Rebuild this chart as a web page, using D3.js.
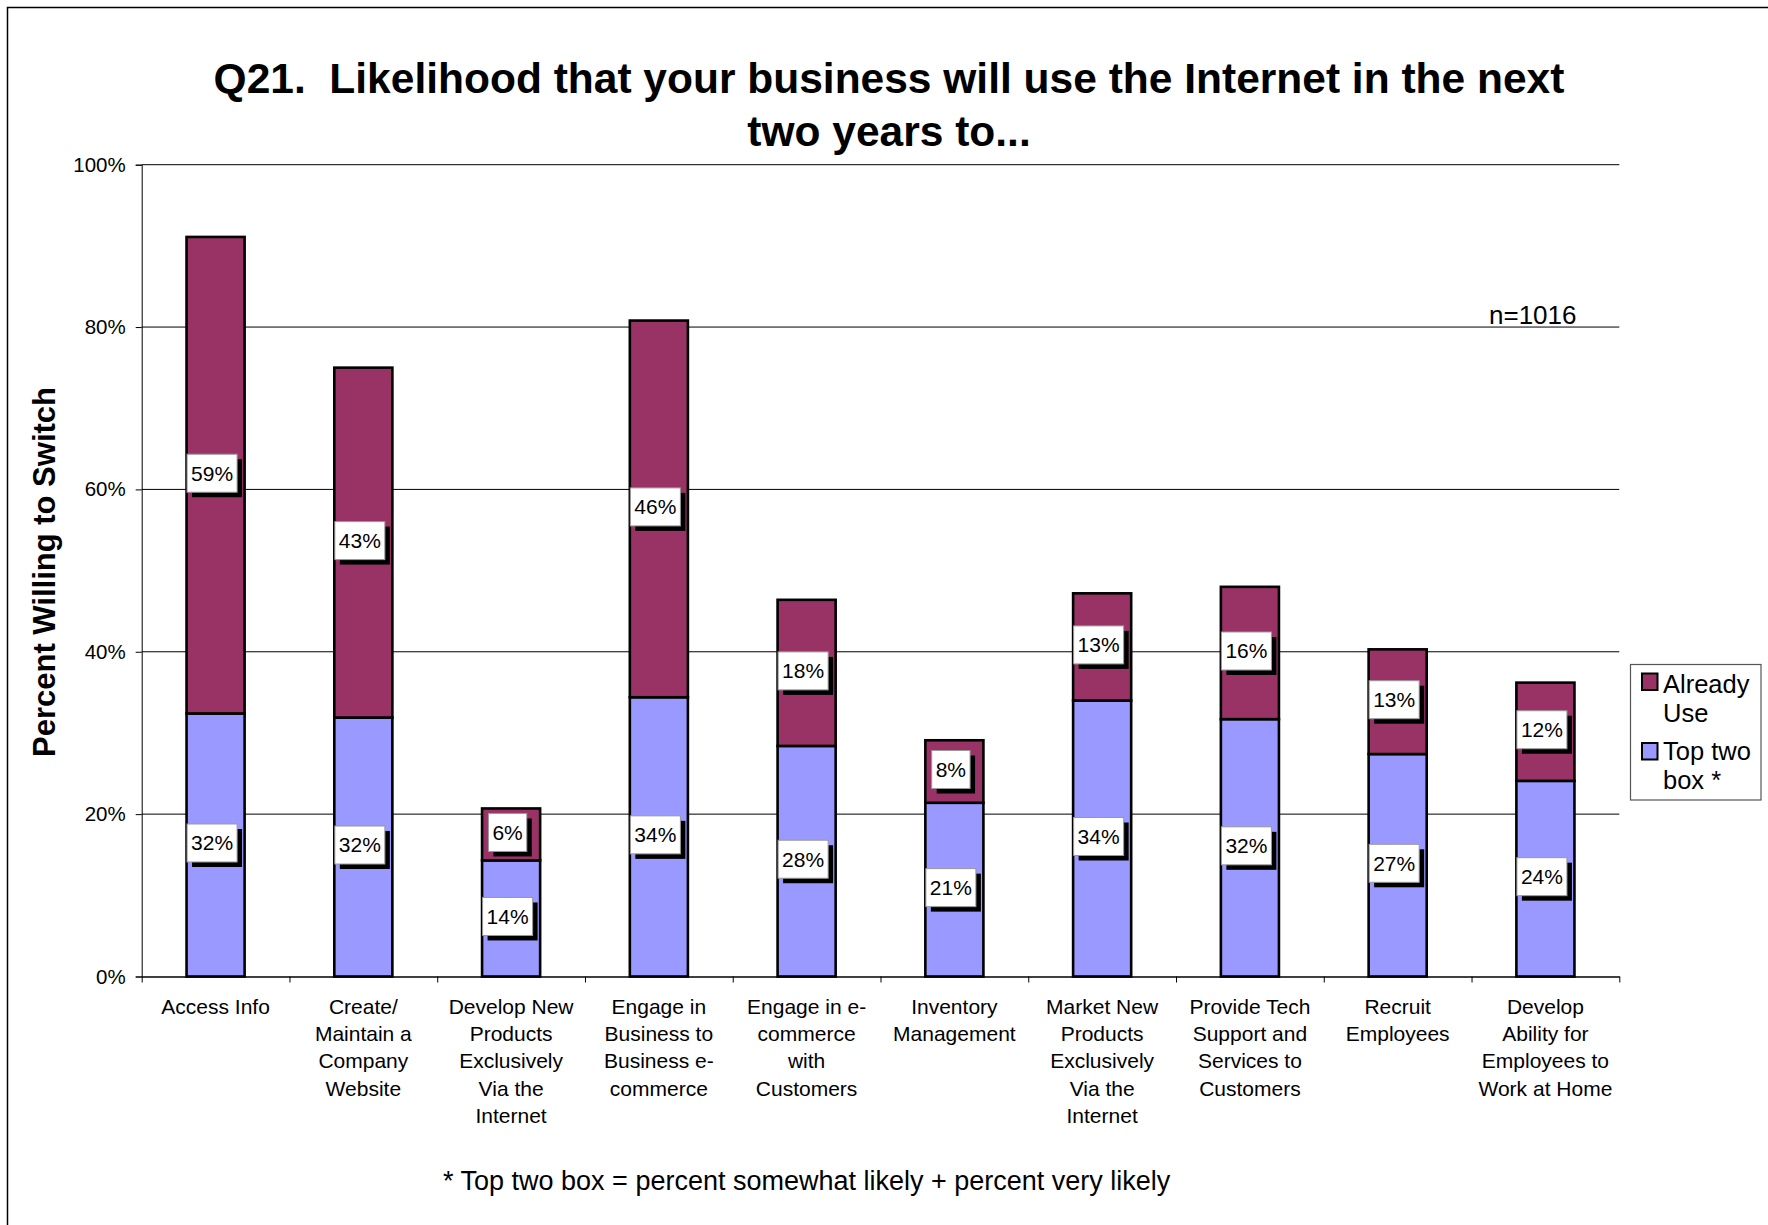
<!DOCTYPE html>
<html>
<head>
<meta charset="utf-8">
<script src="https://cdn.jsdelivr.net/npm/d3@7"></script>
<style>
  html, body { margin: 0; padding: 0; background: #fff; }
  svg { display: block; font-family: "Liberation Sans", Arial, sans-serif; }
</style>
</head>
<body>
<svg id="chart" width="1768" height="1225"></svg>
<script>
// ---- data ----
const categories = [
  "Access Info",
  "Create/ Maintain a Company Website",
  "Develop New Products Exclusively Via the Internet",
  "Engage in Business to Business e-commerce",
  "Engage in e-commerce with Customers",
  "Inventory Management",
  "Market New Products Exclusively Via the Internet",
  "Provide Tech Support and Services to Customers",
  "Recruit Employees",
  "Develop Ability for Employees to Work at Home"
];
const categoryLines = [
  ["Access Info"],
  ["Create/", "Maintain a", "Company", "Website"],
  ["Develop New", "Products", "Exclusively", "Via the", "Internet"],
  ["Engage in", "Business to", "Business e-", "commerce"],
  ["Engage in e-", "commerce", "with", "Customers"],
  ["Inventory", "Management"],
  ["Market New", "Products", "Exclusively", "Via the", "Internet"],
  ["Provide Tech", "Support and", "Services to", "Customers"],
  ["Recruit", "Employees"],
  ["Develop", "Ability for", "Employees to", "Work at Home"]
];
const topTwoBox = [32.4, 31.9, 14.3, 34.4, 28.4, 21.4, 34.0, 31.7, 27.4, 24.1];
const alreadyUse = [58.7, 43.1, 6.4, 46.4, 18.0, 7.7, 13.2, 16.3, 12.9, 12.1];
const seriesNames = ["Already Use", "Top two box *"];
const seriesColors = ["#993366", "#9999FF"];
const yTicks = [0, 20, 40, 60, 80, 100];
const titleLines = ["Q21.  Likelihood that your business will use the Internet in the next", "two years to..."];
const yTitle = "Percent Willing to Switch";
const nNote = "n=1016";
const footnote = "* Top two box = percent somewhat likely + percent very likely";

// ---- layout ----
const FONT = '"Liberation Sans", Arial, sans-serif';
const svg = d3.select("#chart");
const plotL = 141.7, plotR = 1619.3, plotB = 976.5, plotT = 164.7;

const x = d3.scaleBand().domain(categories).range([plotL, plotR])
  .paddingInner(0.607).paddingOuter(0.3035);
const y = d3.scaleLinear().domain([0, 100]).range([plotB, plotT]);
const xEdges = d3.scaleLinear().domain([0, categories.length]).range([plotL, plotR]);

// frame
svg.append("rect").attr("x", 7.5).attr("y", 7.5).attr("width", 1800).attr("height", 1300)
  .attr("fill", "#fff").attr("stroke", "#000").attr("stroke-width", 1.5);

// title
const title = svg.append("text").attr("text-anchor", "middle")
  .attr("font-weight", "bold").attr("font-size", 42.5).attr("fill", "#000")
  .style("white-space", "pre");
titleLines.forEach((t, i) => {
  title.append("tspan").attr("x", 889).attr("y", 92.7 + i * 53.5).text(t);
});

// gridlines
svg.append("g").selectAll("line").data(yTicks.filter(d => d > 0)).join("line")
  .attr("x1", plotL).attr("x2", plotR)
  .attr("y1", d => y(d)).attr("y2", d => y(d))
  .attr("stroke", "#000").attr("stroke-width", 1);

// y axis
const yAxis = svg.append("g").attr("transform", `translate(${plotL},0)`)
  .call(d3.axisLeft(y).tickValues(yTicks).tickFormat(d => d + "%").tickSize(6).tickPadding(10));
yAxis.select(".domain").attr("stroke", "#000").attr("stroke-width", 1);
yAxis.selectAll(".tick line").attr("stroke", "#000");
yAxis.selectAll(".tick text").attr("font-size", 20.5).attr("font-family", FONT).attr("fill", "#000");

// bars
const stackData = categories.map((c, i) => ({ cat: c, t2: topTwoBox[i], au: alreadyUse[i] }));
const bw = x.bandwidth();
const barsG = svg.append("g");
stackData.forEach(d => {
  barsG.append("rect")
    .attr("x", x(d.cat)).attr("width", bw)
    .attr("y", y(d.t2)).attr("height", y(0) - y(d.t2))
    .attr("fill", seriesColors[1]).attr("stroke", "#000").attr("stroke-width", 2.6);
  barsG.append("rect")
    .attr("x", x(d.cat)).attr("width", bw)
    .attr("y", y(d.t2 + d.au)).attr("height", y(d.t2) - y(d.t2 + d.au))
    .attr("fill", seriesColors[0]).attr("stroke", "#000").attr("stroke-width", 2.6);
});

// x axis (bottom line + boundary ticks)
const xAxis = svg.append("g").attr("transform", `translate(0,${plotB})`)
  .call(d3.axisBottom(xEdges).tickValues(d3.range(0, categories.length + 1)).tickFormat("").tickSize(6).tickSizeOuter(0));
xAxis.select(".domain").attr("stroke", "#000").attr("stroke-width", 1.3);
xAxis.selectAll(".tick line").attr("stroke", "#000");

// category labels
const catG = svg.append("g").attr("font-size", 21).attr("fill", "#000").attr("text-anchor", "middle");
categories.forEach((c, i) => {
  const t = catG.append("text");
  categoryLines[i].forEach((ln, j) => {
    t.append("tspan").attr("x", x(c) + bw / 2).attr("y", 1014 + j * 27.2).text(ln);
  });
});

// data labels
const lblG = svg.append("g");
function dataLabel(cx, cy, val) {
  const g = lblG.append("g");
  const txt = g.append("text").attr("font-size", 21).attr("text-anchor", "middle")
    .attr("x", cx).attr("y", cy + 7.4).attr("fill", "#000").text(Math.round(val) + "%");
  const w = txt.node().getComputedTextLength() + 8;
  const h = 38;
  g.insert("rect", "text").attr("x", cx - w / 2 + 5).attr("y", cy - h / 2 + 5)
    .attr("width", w).attr("height", h).attr("fill", "#000");
  g.insert("rect", "text").attr("x", cx - w / 2).attr("y", cy - h / 2)
    .attr("width", w).attr("height", h).attr("fill", "#fff")
    .attr("stroke", "#999").attr("stroke-width", 1);
}
stackData.forEach(d => {
  const cx = x(d.cat) + bw / 2 - 3.5;
  dataLabel(cx, y(d.t2 / 2) - 2, d.t2);
  dataLabel(cx, y(d.t2 + d.au / 2) - 2, d.au);
});

// y-axis title
svg.append("text").attr("transform", `translate(55,572) rotate(-90)`)
  .attr("text-anchor", "middle").attr("font-weight", "bold").attr("font-size", 31)
  .attr("fill", "#000").text(yTitle);

// n note
svg.append("text").attr("x", 1489).attr("y", 324).attr("font-size", 26).attr("fill", "#000").text(nNote);

// legend
const lg = svg.append("g");
lg.append("rect").attr("x", 1630.5).attr("y", 664.5).attr("width", 130.5).attr("height", 135.5)
  .attr("fill", "#fff").attr("stroke", "#555").attr("stroke-width", 1.2);
const legendLines = [["Already", "Use"], ["Top two", "box *"]];
seriesNames.forEach((s, i) => {
  const sy = 673.5 + i * 69.5;
  lg.append("rect").attr("x", 1642).attr("y", sy).attr("width", 15.5).attr("height", 16.5)
    .attr("fill", seriesColors[i]).attr("stroke", "#000").attr("stroke-width", 2);
  const t = lg.append("text").attr("font-size", 25.5).attr("fill", "#000");
  legendLines[i].forEach((ln, j) => {
    t.append("tspan").attr("x", 1663).attr("y", 692.7 + i * 67.5 + j * 29).text(ln);
  });
});

// footnote
svg.append("text").attr("x", 443).attr("y", 1190).attr("font-size", 27).attr("fill", "#000").text(footnote);
</script>
</body>
</html>
